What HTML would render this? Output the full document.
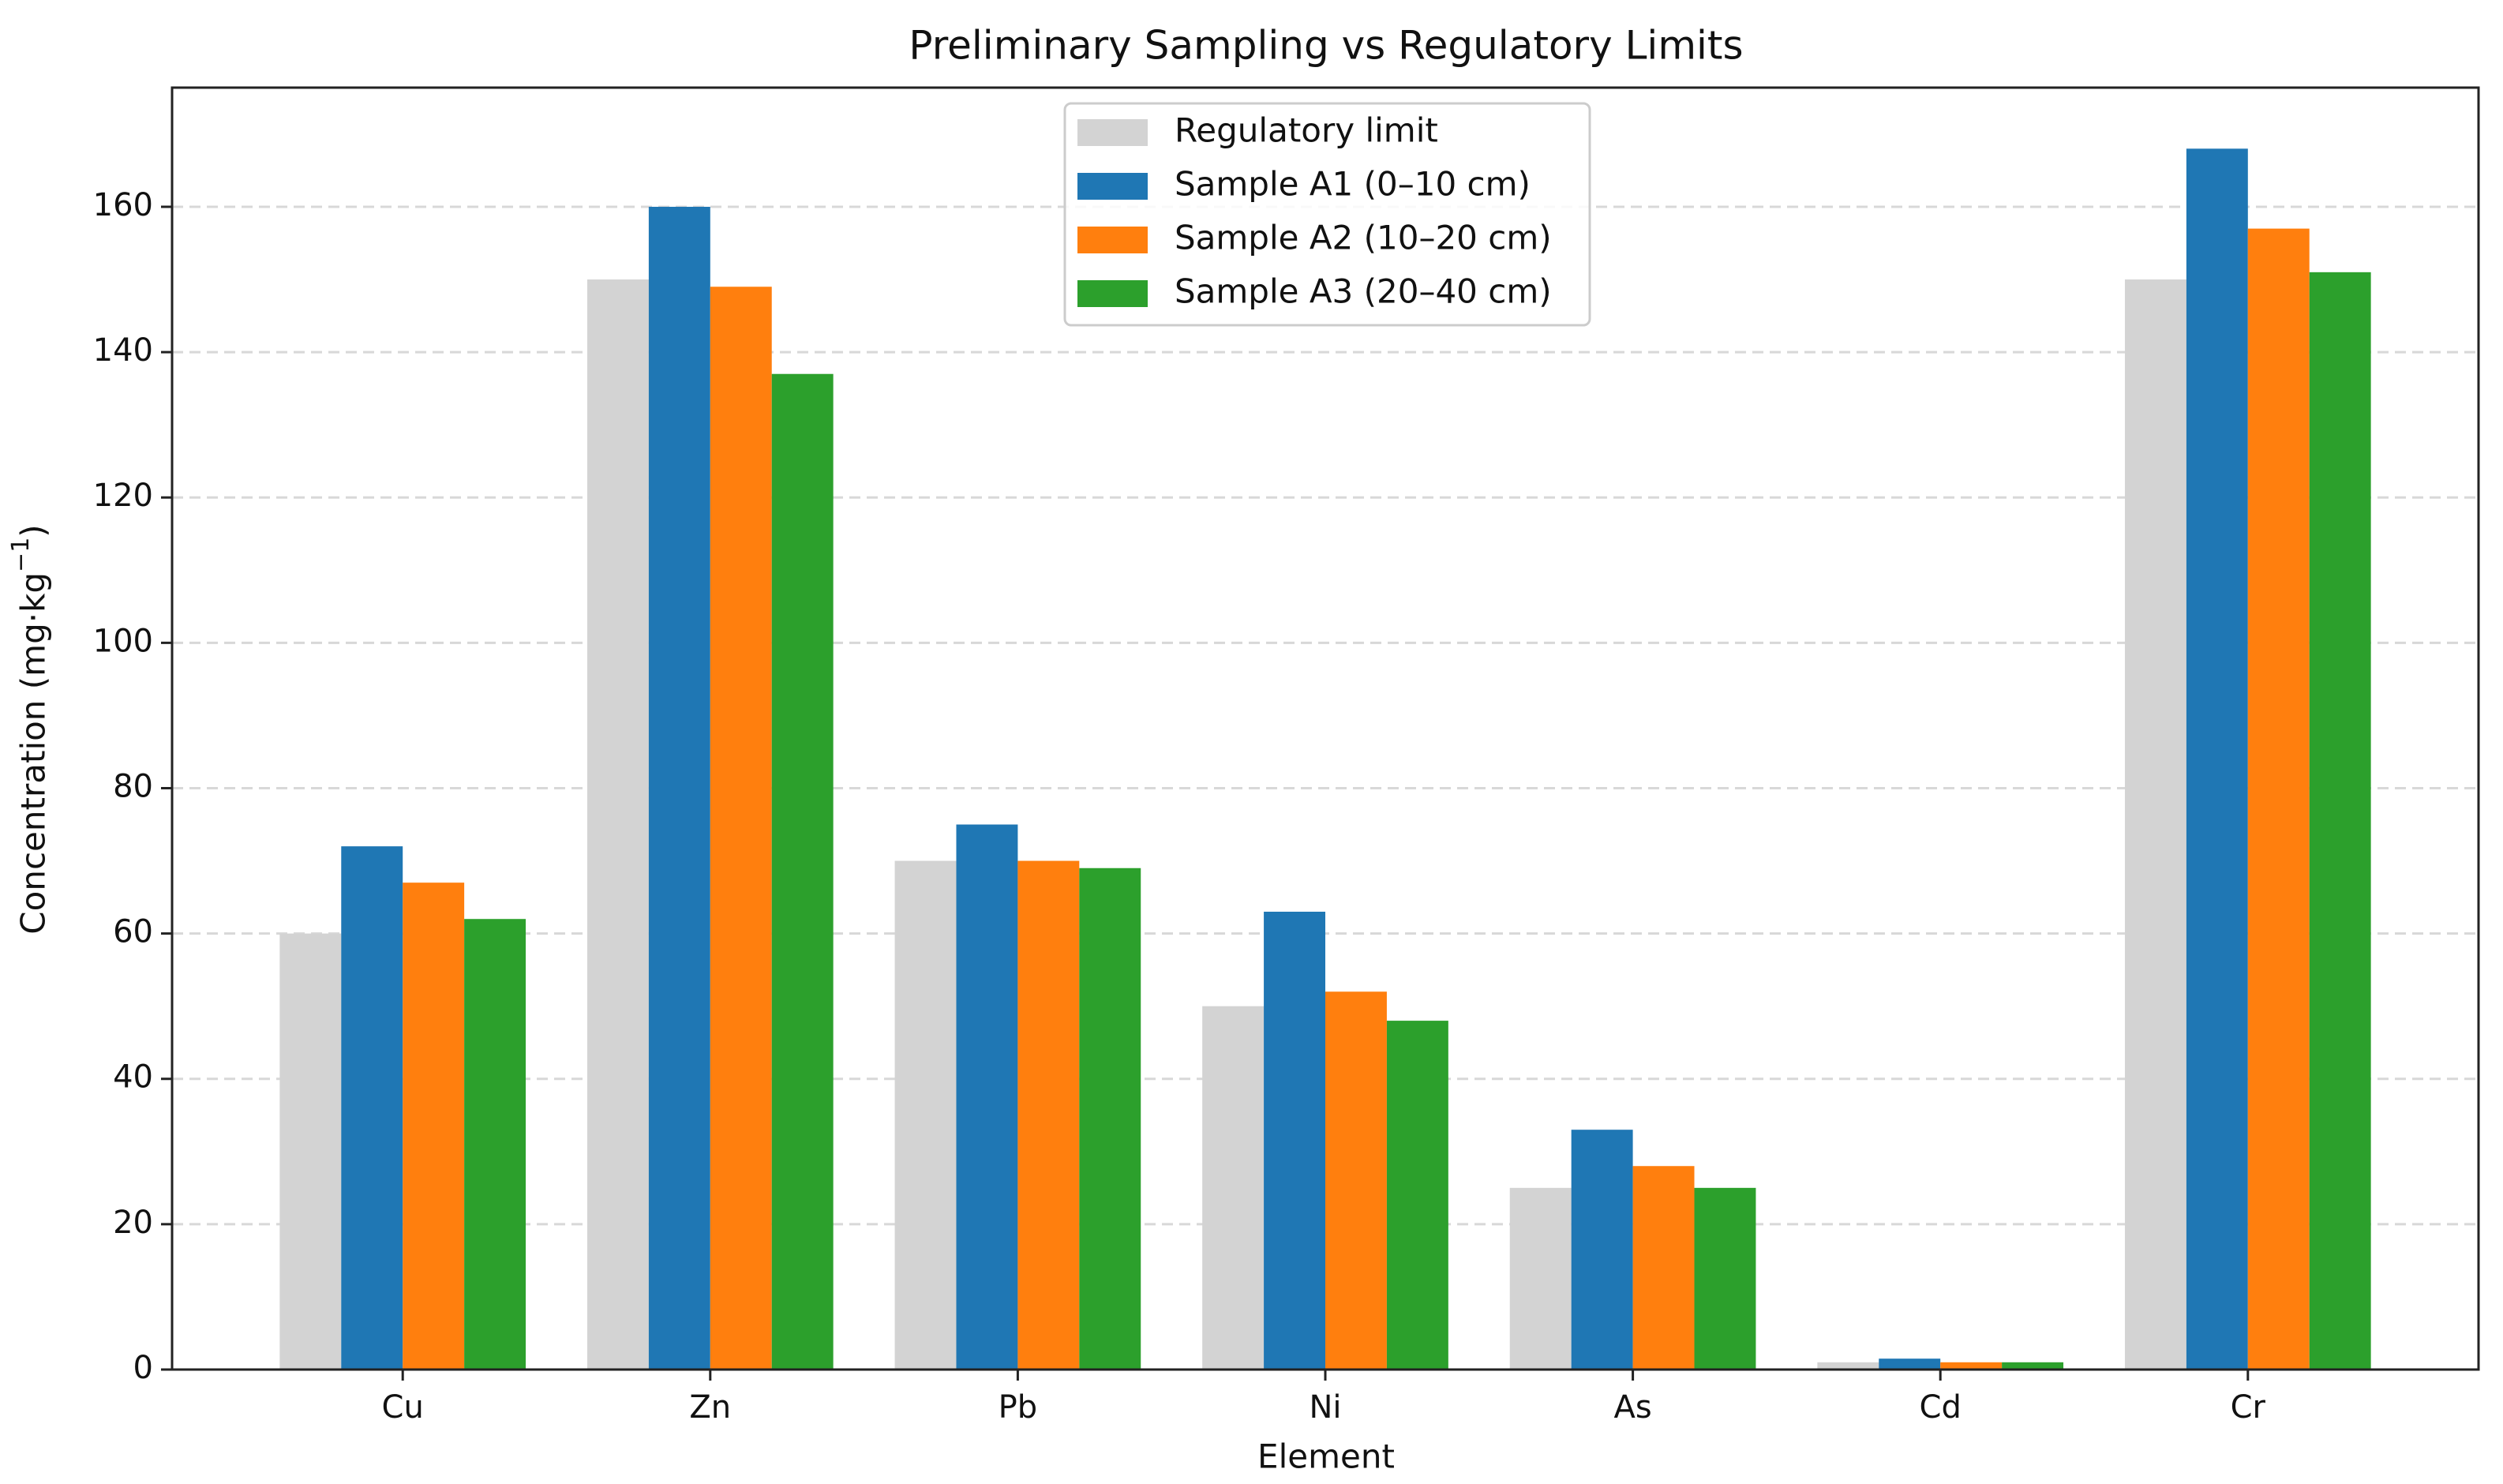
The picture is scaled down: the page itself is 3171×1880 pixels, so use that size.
<!DOCTYPE html>
<html><head><meta charset="utf-8"><style>
html,body{margin:0;padding:0;background:#fff;}
svg{display:block;font-family:"DejaVu Sans","Liberation Sans",sans-serif;}
</style></head><body>
<svg id="chart" width="3171" height="1880" viewBox="0 0 3171 1880" xmlns="http://www.w3.org/2000/svg">
<rect width="3171" height="1880" fill="#fff"/>
<text x="1680" y="61" text-anchor="middle" dominant-baseline="middle" font-size="50" fill="#111">Preliminary Sampling vs Regulatory Limits</text>
<g id="grid"></g><g id="bars"></g><g id="axes"></g><g id="legend"></g>
<text x="1680" y="1848" text-anchor="middle" dominant-baseline="middle" font-size="42" fill="#111">Element</text>
<text transform="translate(45,924) rotate(-90)" text-anchor="middle" dominant-baseline="middle" font-size="42" fill="#111">Concentration (mg·kg<tspan baseline-shift="super" font-size="30">−1</tspan>)</text>
</svg>
<script>
const categories = ["Cu","Zn","Pb","Ni","As","Cd","Cr"];
const regulatoryLimit = [60,150,70,50,25,1,150];
const sampleA1 = [72,160,75,63,33,1.5,168];
const sampleA2 = [67,149,70,52,28,1,157];
const sampleA3 = [62,137,69,48,25,1,151];
const yTicks = [0,20,40,60,80,100,120,140,160];
const seriesNames = ["Regulatory limit","Sample A1 (0–10 cm)","Sample A2 (10–20 cm)","Sample A3 (20–40 cm)"];

const NS="http://www.w3.org/2000/svg";
const L=218,R=3140,T=111,B=1735,xMin=-0.75,xMax=6.75,yMax=176.4;
const xs=v=>L+(v-xMin)/(xMax-xMin)*(R-L);
const ys=v=>B-v/yMax*(B-T);
function mk(tag,attrs,parent){const e=document.createElementNS(NS,tag);for(const k in attrs)e.setAttribute(k,attrs[k]);parent.appendChild(e);return e;}
const grid=document.getElementById('grid'),bars=document.getElementById('bars'),axes=document.getElementById('axes'),leg=document.getElementById('legend');
yTicks.forEach(t=>{
  if(t>0){const g=mk('line',{x1:L,x2:R,y1:ys(t),y2:ys(t),stroke:'#d8d8d8','stroke-width':3,'stroke-dasharray':'14 8'},grid);
  
  }
  const tk=mk('line',{x1:L-14,x2:L,y1:ys(t),y2:ys(t),stroke:'#222','stroke-width':3},axes);
  
  
  const tx=mk('text',{x:L-24,y:ys(t),'text-anchor':'end','dominant-baseline':'middle','font-size':40,fill:'#111'},axes);
  tx.textContent=t;
  
  
});
const series=[regulatoryLimit,sampleA1,sampleA2,sampleA3];
const colors=['#d3d3d3','#1f77b4','#ff7f0e','#2ca02c'];
const w=0.2;
series.forEach((s,si)=>{
  s.forEach((v,i)=>{
    const x0=xs(i+(si-2)*w),x1=xs(i+(si-1)*w);
    const r=mk('rect',{x:x0,y:ys(v),width:x1-x0,height:B-ys(v),fill:colors[si]},bars);
    
    
  });
});
categories.forEach((c,i)=>{
  const tk=mk('line',{x1:xs(i),x2:xs(i),y1:B,y2:B+14,stroke:'#222','stroke-width':3},axes);
  
  
  const tx=mk('text',{x:xs(i),y:B+50,'text-anchor':'middle','dominant-baseline':'middle','font-size':40,fill:'#111'},axes);
  tx.textContent=c;
  
  
});
const fr=mk('rect',{x:L,y:T,width:R-L,height:B-T,fill:'none',stroke:'#222','stroke-width':3},axes);


const lb=mk('rect',{x:1349,y:131,width:665,height:281,rx:8,fill:'#fff','fill-opacity':0.85,stroke:'#ccc','stroke-width':3},leg);


seriesNames.forEach((n,i)=>{
  const y=168+i*68;
  const p=mk('rect',{x:1365,y:y-17,width:89,height:34,fill:colors[i]},leg);
  
  
  const t=mk('text',{x:1488,y:y,'dominant-baseline':'middle','font-size':42,fill:'#111'},leg);
  t.textContent=n;
  
  
});
</script>
</body></html>
